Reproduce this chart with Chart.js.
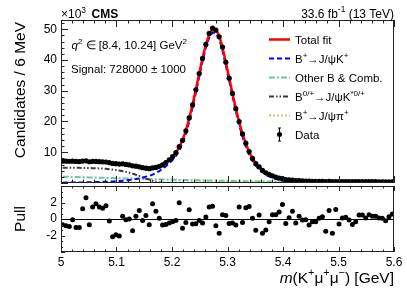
<!DOCTYPE html>
<html>
<head>
<meta charset="utf-8">
<script src="https://cdn.jsdelivr.net/npm/chart.js@4.4.1/dist/chart.umd.min.js"></script>
<style>
  html, body { margin: 0; padding: 0; background: #fff; }
  #wrap { position: relative; width: 407px; height: 292px; }
  canvas { position: absolute; left: 0; top: 0; }
</style>
</head>
<body>
<div id="wrap">
  <canvas id="main" width="407" height="292"></canvas>
  <canvas id="pull" width="407" height="292"></canvas>
</div>
<script>
// 100 bins of 6 MeV between 5.0 and 5.6 GeV (bin centres)
const massBins = Array.from({ length: 100 }, (_, i) => +(5.003 + 0.006 * i).toFixed(3));

// candidates per bin, x10^3
const dataCounts = [
  7.14, 7.11, 7.07, 7.11, 7.01, 6.98, 7.14, 7.22, 6.91, 7.05,
  7.03, 6.95, 6.88, 6.83, 6.60, 6.36, 6.28, 6.16, 6.23, 6.04,
  5.88, 5.57, 5.47, 5.27, 4.97, 4.83, 4.67, 4.91, 5.07, 5.41,
  5.89, 6.65, 7.56, 8.57, 9.88, 11.81, 13.87, 16.95, 21.16, 25.4,
  30.3, 35.57, 40.5, 45.05, 48.62, 50.35, 49.71, 47.52, 44.21, 39.28,
  34.1, 29.12, 24.18, 20.0, 15.95, 12.95, 10.25, 8.0, 6.29, 5.24,
  4.09, 3.32, 2.78, 2.33, 1.92, 1.63, 1.42, 1.13, 1.0, 0.93,
  0.81, 0.76, 0.70, 0.65, 0.59, 0.57, 0.54, 0.53, 0.52, 0.46,
  0.50, 0.43, 0.48, 0.44, 0.45, 0.44, 0.44, 0.42, 0.42, 0.44,
  0.43, 0.42, 0.43, 0.42, 0.42, 0.41, 0.41, 0.40, 0.41, 0.41
];

const totalFit = [
  7.2, 7.18, 7.15, 7.12, 7.1, 7.07, 7.04, 7.0, 6.97, 6.93,
  6.88, 6.83, 6.77, 6.7, 6.62, 6.53, 6.43, 6.32, 6.2, 6.05,
  5.88, 5.68, 5.45, 5.2, 4.98, 4.8, 4.72, 4.78, 5.0, 5.4,
  5.95, 6.7, 7.6, 8.6, 9.9, 11.6, 14.0, 17.0, 21.0, 25.5,
  30.4, 35.6, 40.6, 45.0, 48.3, 50.0, 49.9, 47.9, 44.1, 39.2,
  34.2, 29.2, 24.3, 19.8, 16.0, 12.8, 10.1, 8.0, 6.4, 5.2,
  4.2, 3.4, 2.8, 2.3, 1.9, 1.6, 1.35, 1.15, 1.0, 0.9,
  0.82, 0.75, 0.7, 0.65, 0.61, 0.58, 0.55, 0.53, 0.51, 0.49,
  0.48, 0.47, 0.46, 0.45, 0.45, 0.44, 0.44, 0.43, 0.43, 0.43,
  0.42, 0.42, 0.42, 0.41, 0.41, 0.41, 0.41, 0.40, 0.40, 0.40
];

const signalJpsiK = [
  0.12, 0.13, 0.14, 0.15, 0.16, 0.18, 0.19, 0.21, 0.23, 0.26,
  0.30, 0.33, 0.37, 0.41, 0.45, 0.51, 0.58, 0.66, 0.76, 0.87,
  1.0, 1.14, 1.29, 1.47, 1.73, 2.08, 2.27, 2.71, 3.25, 3.89,
  4.61, 5.45, 6.4, 7.45, 8.77, 10.49, 12.91, 15.93, 19.95, 24.46,
  29.36, 34.52, 39.53, 43.94, 47.25, 48.96, 48.87, 46.88, 43.09, 38.2,
  33.22, 28.23, 23.35, 18.87, 15.1, 11.93, 9.26, 7.18, 5.61, 4.44,
  3.47, 2.7, 2.13, 1.66, 1.28, 1.01, 0.78, 0.6, 0.47, 0.39,
  0.32, 0.26, 0.22, 0.17, 0.14, 0.11, 0.09, 0.07, 0.06, 0.05,
  0.05, 0.04, 0.04, 0.04, 0.04, 0.04, 0.04, 0.03, 0.03, 0.03,
  0.03, 0.03, 0.03, 0.03, 0.03, 0.03, 0.03, 0.03, 0.03, 0.03
];

const otherBComb = [
  2.05, 2.02, 1.99, 1.96, 1.93, 1.9, 1.87, 1.84, 1.81, 1.78,
  1.75, 1.72, 1.69, 1.66, 1.63, 1.6, 1.57, 1.54, 1.51, 1.48,
  1.45, 1.42, 1.39, 1.36, 1.33, 1.3, 1.27, 1.24, 1.21, 1.18,
  1.15, 1.12, 1.09, 1.06, 1.03, 1.0, 0.98, 0.96, 0.94, 0.92,
  0.9, 0.88, 0.86, 0.84, 0.82, 0.8, 0.78, 0.76, 0.74, 0.72,
  0.7, 0.68, 0.66, 0.64, 0.62, 0.6, 0.58, 0.57, 0.56, 0.55,
  0.54, 0.53, 0.52, 0.51, 0.5, 0.49, 0.48, 0.47, 0.46, 0.45,
  0.44, 0.44, 0.43, 0.43, 0.42, 0.42, 0.41, 0.41, 0.4, 0.4,
  0.39, 0.39, 0.38, 0.38, 0.37, 0.37, 0.37, 0.36, 0.36, 0.36,
  0.35, 0.35, 0.35, 0.34, 0.34, 0.34, 0.33, 0.33, 0.33, 0.33
];

const jpsiKstar = [
  4.98, 4.97, 4.96, 4.95, 4.93, 4.92, 4.9, 4.88, 4.86, 4.83,
  4.79, 4.74, 4.68, 4.6, 4.5, 4.37, 4.22, 4.05, 3.85, 3.62,
  3.36, 3.05, 2.7, 2.3, 1.85, 1.4, 1.1, 0.75, 0.45, 0.25,
  0.12, 0.05, 0.02, 0.01, 0, 0, 0, 0, 0, 0,
  0, 0, 0, 0, 0, 0, 0, 0, 0, 0,
  0, 0, 0, 0, 0, 0, 0, 0, 0, 0,
  0, 0, 0, 0, 0, 0, 0, 0, 0, 0,
  0, 0, 0, 0, 0, 0, 0, 0, 0, 0,
  0, 0, 0, 0, 0, 0, 0, 0, 0, 0,
  0, 0, 0, 0, 0, 0, 0, 0, 0, 0
];

const jpsiPi = [
  0.05, 0.05, 0.05, 0.05, 0.05, 0.06, 0.06, 0.06, 0.06, 0.06,
  0.07, 0.07, 0.07, 0.07, 0.08, 0.08, 0.08, 0.08, 0.09, 0.09,
  0.09, 0.1, 0.1, 0.1, 0.1, 0.1, 0.11, 0.11, 0.11, 0.11,
  0.12, 0.12, 0.13, 0.13, 0.14, 0.14, 0.15, 0.16, 0.17, 0.18,
  0.19, 0.2, 0.21, 0.22, 0.23, 0.24, 0.25, 0.26, 0.27, 0.28,
  0.28, 0.29, 0.29, 0.29, 0.28, 0.27, 0.26, 0.25, 0.23, 0.21,
  0.19, 0.17, 0.15, 0.13, 0.12, 0.1, 0.09, 0.08, 0.07, 0.06,
  0.06, 0.05, 0.05, 0.05, 0.05, 0.05, 0.05, 0.05, 0.05, 0.04,
  0.04, 0.04, 0.04, 0.04, 0.04, 0.04, 0.04, 0.04, 0.04, 0.04,
  0.04, 0.04, 0.04, 0.04, 0.04, 0.04, 0.04, 0.04, 0.04, 0.04
];

const pulls = [
  -0.70, -0.83, -0.91, -0.09, -1.03, -1.03, 1.23, 2.59, -0.70, 1.44,
  1.85, 1.44, 1.31, 1.60, -0.25, -2.15, -1.90, -2.06, 0.32, -0.09,
  0.0, -1.41, 0.32, 1.02, -0.17, 0.41, -0.70, 1.85, 0.94, 0.08,
  -0.74, -0.66, -0.49, -0.33, -0.17, 1.97, -1.11, -0.42, 1.11, -0.62,
  -0.58, -0.17, -0.49, 0.25, 1.44, 1.56, -0.83, -1.73, 0.53, 0.41,
  -0.54, -0.49, -0.74, 1.44, -0.42, 1.35, 1.52, 0.08, -1.36, 0.49,
  -1.73, -1.32, -0.33, 0.53, 0.53, 0.86, 1.77, -0.54, 0.16, 0.94,
  -0.49, 0.32, -0.13, -0.09, -0.74, -0.33, -0.33, 0.08, 0.28, -1.48,
  1.02, -1.73, 1.15, -0.62, 0.12, 0.20, -0.13, -0.66, -0.33, 0.49,
  0.49, 0.12, 0.53, 0.32, 0.32, 0.12, 0.08, -0.21, 0.28, 0.61
];

const FONT = "'Liberation Sans', Arial, Helvetica, sans-serif";
const xy = arr => massBins.map((m, i) => ({ x: m, y: arr[i] }));

const styles = {
  total: { color: '#ff0000', width: 2.5, dash: [] },
  signal: { color: '#0000ff', width: 2, dash: [5, 3] },
  other: { color: '#6cc4a4', width: 2, dash: [6, 2, 2, 2] },
  kstar: { color: '#3a3a3a', width: 2, dash: [5, 2, 1.5, 2, 1.5, 2] },
  pi: { color: '#cfc070', width: 2, dash: [2, 2] }
};

function lineSet(arr, st, order) {
  return {
    type: 'line', data: xy(arr), borderColor: st.color, borderWidth: st.width,
    borderDash: st.dash, pointRadius: 0, fill: false, tension: 0, order: order
  };
}

// text with superscripts / bold / italic parts
function richText(ctx, parts, x, y, size, align) {
  const segs = parts.map(([t, s = '']) => {
    const sup = s.includes('sup');
    const sz = sup ? size * 0.7 : size;
    const f = (s.includes('b') ? 'bold ' : '') + (s.includes('i') ? 'italic ' : '') + sz + 'px ' + FONT;
    ctx.font = f;
    return { t, f, w: ctx.measureText(t).width, dy: sup ? -size * 0.42 : 0 };
  });
  const total = segs.reduce((s, p) => s + p.w, 0);
  let cx = align === 'right' ? x - total : align === 'center' ? x - total / 2 : x;
  ctx.textAlign = 'left';
  ctx.textBaseline = 'alphabetic';
  ctx.fillStyle = '#000';
  segs.forEach(p => { ctx.font = p.f; ctx.fillText(p.t, cx, y + p.dy); cx += p.w; });
}

// frame with inward tick marks, ROOT style
function frameTicks(id, yMinor, yMajor, yLen, xLen) {
  return {
    id: id,
    afterDatasetsDraw(chart) {
      const { ctx, chartArea: a, scales: { x, y } } = chart;
      ctx.save();
      ctx.strokeStyle = '#222';
      ctx.lineWidth = 1;
      ctx.beginPath();
      for (let i = 0; i <= 30; i++) {
        const v = 5 + i * 0.02;
        const px = Math.round(x.getPixelForValue(v)) + 0.5;
        const len = i % 5 === 0 ? xLen : xLen / 2;
        ctx.moveTo(px, a.bottom); ctx.lineTo(px, a.bottom - len);
        ctx.moveTo(px, a.top); ctx.lineTo(px, a.top + len);
      }
      for (let v = y.min; v <= y.max + 1e-6; v += yMinor) {
        const py = Math.round(y.getPixelForValue(v)) + 0.5;
        const major = Math.abs(v / yMajor - Math.round(v / yMajor)) < 1e-6;
        ctx.moveTo(a.left, py); ctx.lineTo(a.left + (major ? yLen : yLen / 2), py);
      }
      ctx.stroke();
      ctx.strokeRect(a.left + 0.5, a.top + 0.5, a.right - a.left - 1, a.bottom - a.top - 1);
      ctx.restore();
    }
  };
}

const mainText = {
  id: 'mainText',
  afterDraw(chart) {
    const ctx = chart.ctx;
    ctx.save();
    richText(ctx, [['×10'], ['3', 'sup']], 61, 18, 12);
    richText(ctx, [['CMS', 'b']], 91.5, 18, 12);
    richText(ctx, [['33.6 fb'], ['-1', 'sup'], [' (13 TeV)']], 394, 17.5, 12, 'right');
    richText(ctx, [['q', 'i'], ['2', 'sup'], [' ∈ [8.4, 10.24] GeV'], ['2', 'sup']], 71.5, 49, 11.5);
    richText(ctx, [['Signal: 728000 ± 1000']], 71, 73, 11.5);

    ctx.save();
    ctx.translate(25, 22);
    ctx.rotate(-Math.PI / 2);
    richText(ctx, [['Candidates / 6 MeV']], 0, 0, 15.5, 'right');
    ctx.restore();

    // legend
    const rows = [
      [styles.total, [['Total fit']]],
      [styles.signal, [['B'], ['+', 'sup'], ['→J/ψK'], ['+', 'sup']]],
      [styles.other, [['Other B & Comb.']]],
      [styles.kstar, [['B'], ['0/+', 'sup'], ['→J/ψK'], ['*0/+', 'sup']]],
      [styles.pi, [['B'], ['+', 'sup'], ['→J/ψπ'], ['+', 'sup']]],
      [null, [['Data']]]
    ];
    rows.forEach(([st, label], i) => {
      const ry = 39.5 + i * 19;
      if (st) {
        ctx.strokeStyle = st.color;
        ctx.lineWidth = st.width;
        ctx.setLineDash(st.dash);
        ctx.beginPath(); ctx.moveTo(269, ry); ctx.lineTo(290, ry); ctx.stroke();
        ctx.setLineDash([]);
      } else {
        ctx.strokeStyle = '#000'; ctx.lineWidth = 1;
        ctx.beginPath();
        ctx.moveTo(279.5, ry - 6.5); ctx.lineTo(279.5, ry + 6.5);
        ctx.moveTo(278, ry - 6.5); ctx.lineTo(281, ry - 6.5);
        ctx.moveTo(278, ry + 6.5); ctx.lineTo(281, ry + 6.5);
        ctx.stroke();
        ctx.fillStyle = '#000';
        ctx.beginPath(); ctx.arc(279.5, ry, 2.5, 0, Math.PI * 2); ctx.fill();
      }
      richText(ctx, label, 295, ry + 4, 11.5);
    });
    ctx.restore();
  }
};

const pullText = {
  id: 'pullText',
  afterDraw(chart) {
    const ctx = chart.ctx;
    const { chartArea: a, scales: { y } } = chart;
    ctx.save();
    const py = Math.round(y.getPixelForValue(0)) + 0.5;
    ctx.strokeStyle = '#000'; ctx.lineWidth = 1;
    ctx.beginPath(); ctx.moveTo(a.left, py); ctx.lineTo(a.right, py); ctx.stroke();
    richText(ctx, [['m', 'i'], ['(K'], ['+', 'sup'], ['μ'], ['+', 'sup'], ['μ'], ['−', 'sup'], [') [GeV]']], 394, 283, 15.5, 'right');
    ctx.save();
    ctx.translate(25, (a.top + a.bottom) / 2);
    ctx.rotate(-Math.PI / 2);
    richText(ctx, [['Pull']], 0, 0, 15.5, 'center');
    ctx.restore();
    ctx.restore();
  }
};

Chart.defaults.font.family = FONT;
Chart.defaults.color = '#000';

new Chart(document.getElementById('main'), {
  type: 'line',
  data: {
    datasets: [
      {
        type: 'line', data: xy(dataCounts), showLine: false, pointRadius: 2.6,
        pointBackgroundColor: '#000', pointBorderWidth: 0, order: 0
      },
      lineSet(totalFit, styles.total, 1),
      lineSet(signalJpsiK, styles.signal, 2),
      lineSet(jpsiPi, styles.pi, 3),
      lineSet(jpsiKstar, styles.kstar, 4),
      lineSet(otherBComb, styles.other, 5)
    ]
  },
  options: {
    responsive: false,
    animation: false,
    events: [],
    layout: { padding: { left: 0, top: 20, right: 13, bottom: 109 } },
    plugins: { legend: { display: false }, tooltip: { enabled: false } },
    scales: {
      x: { type: 'linear', min: 5, max: 5.6, display: false },
      y: {
        min: 0, max: 53,
        grid: { display: false, drawTicks: false },
        border: { display: false },
        ticks: {
          stepSize: 10, includeBounds: false, padding: 4, autoSkip: false,
          font: { size: 12 }, color: '#000',
          callback: v => (v === 0 ? '' : v)
        },
        afterFit: s => { s.width = 61; }
      }
    }
  },
  plugins: [frameTicks('mainFrame', 2, 10, 7, 7), mainText]
});

new Chart(document.getElementById('pull'), {
  type: 'scatter',
  data: {
    datasets: [{
      data: xy(pulls), pointRadius: 2.5, pointBackgroundColor: '#000', pointBorderWidth: 0
    }]
  },
  options: {
    responsive: false,
    animation: false,
    events: [],
    layout: { padding: { left: 0, top: 186, right: 13, bottom: 0 } },
    plugins: { legend: { display: false }, tooltip: { enabled: false } },
    scales: {
      x: {
        type: 'linear', min: 5, max: 5.6,
        grid: { display: false, drawTicks: false },
        border: { display: false },
        ticks: {
          stepSize: 0.1, padding: 3, maxRotation: 0, autoSkip: false, font: { size: 12 }, color: '#000',
          callback: v => String(+v.toFixed(1))
        },
        afterFit: s => { s.height = 40; }
      },
      y: {
        min: -4, max: 4,
        grid: { display: false, drawTicks: false },
        border: { display: false },
        ticks: {
          stepSize: 2, includeBounds: false, padding: 4, autoSkip: false, font: { size: 12 }, color: '#000',
          callback: v => (Math.abs(v) === 4 ? '' : v)
        },
        afterFit: s => { s.width = 61; }
      }
    }
  },
  plugins: [frameTicks('pullFrame', 2 / 3, 2, 4, 5), pullText]
});
</script>
</body>
</html>
